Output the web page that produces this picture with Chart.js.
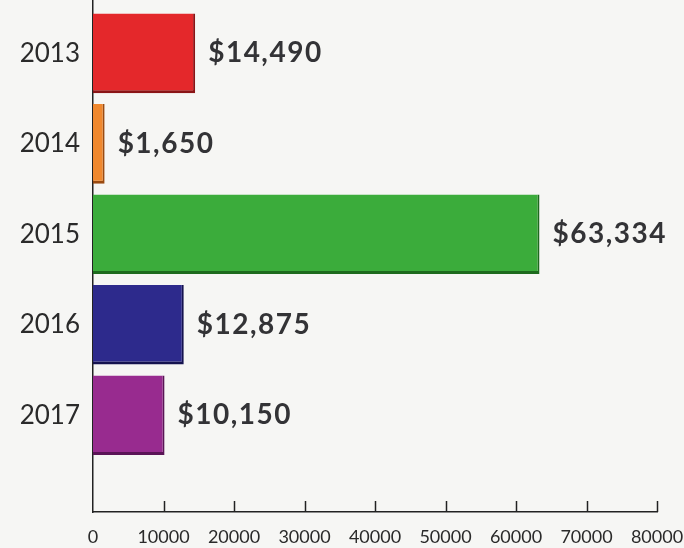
<!DOCTYPE html>
<html lang="en">
<head>
    <meta charset="UTF-8">
    <title>Yearly totals</title>
    <script src="https://cdn.jsdelivr.net/npm/chart.js@4"></script>
    <style>
        html, body { margin: 0; padding: 0; background: #f6f6f4; }
        .wrap { width: 684px; height: 548px; }
    </style>
</head>
<body>
    <div class="wrap"><canvas id="yearChart"></canvas></div>

    <script>
        const years = [2013, 2014, 2015, 2016, 2017];
        const amounts = [14490, 1650, 63334, 12875, 10150];
        const xTicks = [0, 10000, 20000, 30000, 40000, 50000, 60000, 70000, 80000];
        const barColors = ['#e4282b', '#f0882e', '#3bac3b', '#2d2a8c', '#982b8f'];
        const edgeColors = ['#8a1416', '#9a4a10', '#1d6a1d', '#15134f', '#5a1456'];

        // value labels to the right of each bar, plus tick marks drawn inside the axis
        const extras = {
            id: 'extras',
            afterDatasetsDraw(chart) {
                const ctx = chart.ctx;
                const meta = chart.getDatasetMeta(0);
                ctx.save();
                ctx.fillStyle = '#333336';
                ctx.font = 'bold 28px Lato, sans-serif';
                ctx.letterSpacing = '1.5px';
                ctx.textBaseline = 'middle';
                meta.data.forEach((bar, i) => {
                    ctx.fillText('$' + amounts[i].toLocaleString('en-US'), bar.x + 13, bar.y);
                });
                const xs = chart.scales.x;
                ctx.strokeStyle = '#222';
                ctx.lineWidth = 1.5;
                xTicks.forEach(v => {
                    if (v === 0) return;
                    const px = Math.round(xs.getPixelForValue(v)) + 0.5;
                    ctx.beginPath();
                    ctx.moveTo(px, xs.top);
                    ctx.lineTo(px, xs.top - 11);
                    ctx.stroke();
                });
                ctx.restore();
            }
        };

        new Chart(document.getElementById('yearChart'), {
            type: 'bar',
            data: {
                datasets: [{
                    data: years.map((y, i) => ({ x: amounts[i], y: y })),
                    backgroundColor: barColors,
                    borderColor: edgeColors,
                    borderWidth: { top: 0, left: 0, right: 2, bottom: 3 },
                    borderSkipped: false,
                    barPercentage: 0.88,
                    categoryPercentage: 1
                }]
            },
            plugins: [extras],
            options: {
                indexAxis: 'y',
                responsive: true,
                maintainAspectRatio: false,
                animation: false,
                layout: { padding: { top: 0, left: 0, right: 27, bottom: 0 } },
                plugins: { legend: { display: false }, tooltip: { enabled: false } },
                scales: {
                    x: {
                        type: 'linear',
                        min: 0,
                        max: 80000,
                        afterBuildTicks(scale) { scale.ticks = xTicks.map(v => ({ value: v })); },
                        afterFit(scale) {
                            scale.height = 36;
                            scale.paddingLeft = 0;
                            scale.paddingRight = 0;
                        },
                        grid: { display: false, drawTicks: false },
                        border: { display: true, color: '#222', width: 1.5 },
                        ticks: {
                            padding: 14,
                            color: '#2a2a2a',
                            font: { family: 'Lato', size: 18 },
                            callback: v => String(v)
                        }
                    },
                    y: {
                        type: 'linear',
                        reverse: true,
                        offset: false,
                        min: 2012.41,
                        max: 2018.07,
                        afterBuildTicks(scale) { scale.ticks = years.map(v => ({ value: v })); },
                        afterFit(scale) {
                            scale.width = 93;
                            scale.paddingTop = 0;
                            scale.paddingBottom = 0;
                        },
                        grid: { display: false, drawTicks: false },
                        border: { display: true, color: '#222', width: 1.5 },
                        ticks: {
                            padding: 13,
                            color: '#2a2a2a',
                            font: { family: 'Lato', size: 26 },
                            callback: v => String(v)
                        }
                    }
                }
            }
        });
    </script>
</body>
</html>
